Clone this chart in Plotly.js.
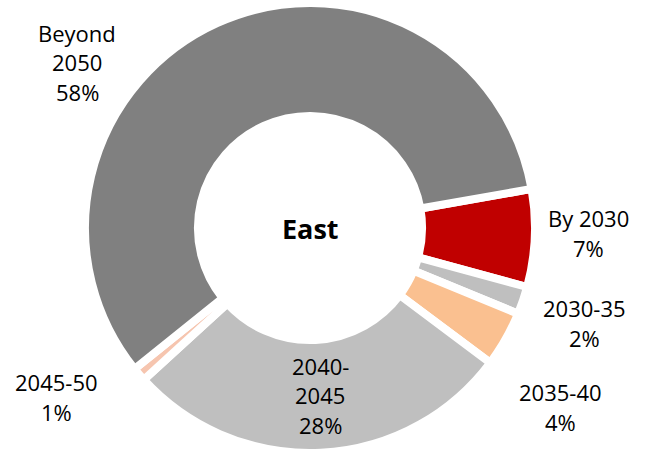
<!DOCTYPE html>
<html>
<head>
<meta charset="utf-8">
<script src="https://cdn.plot.ly/plotly-3.0.1.min.js"></script>
<style>html,body{margin:0;padding:0;background:#fff;overflow:hidden;}</style>
</head>
<body>
<div id="chart" style="width:645px;height:456px;"></div>
<script>
// ---- data ----
const categories = ['By 2030', '2030-35', '2035-40', '2040-2045', '2045-50', 'Beyond 2050'];
const values = [7, 2, 4, 28, 1, 58];
const labelLines = [['By 2030'], ['2030-35'], ['2035-40'], ['2040-', '2045'], ['2045-50'], ['Beyond', '2050']];
const centerTitle = 'East';

// ---- styles / layout ----
const colors = ['#C00000', '#BFBFBF', '#FAC090', '#BFBFBF', '#F6C5AF', '#808080'];
const labelPos = [[588, 233], [584, 323], [560, 407], [320, 395], [56, 397], [77, 62]]; // px centers
const W = 645, H = 456, LINE = 29.5;
const CX = 310, CY = 228, R = 225;
const FONT = '"Open Sans", Lato, sans-serif';

const annotations = [];
categories.forEach((c, i) => {
  const lines = labelLines[i].concat([values[i] + '%']);
  const n = lines.length;
  lines.forEach((t, k) => {
    const py = labelPos[i][1] + (k - (n - 1) / 2) * LINE;
    annotations.push({
      xref: 'paper', yref: 'paper',
      x: labelPos[i][0] / W, y: 1 - py / H,
      xanchor: 'center', yanchor: 'middle',
      text: t, showarrow: false,
      font: {family: FONT, size: 22, color: '#000'}
    });
  });
});
annotations.push({
  xref: 'paper', yref: 'paper', x: CX / W, y: 1 - 229 / H,
  xanchor: 'center', yanchor: 'middle', showarrow: false,
  text: '<b>' + centerTitle + '</b>',
  font: {family: FONT, size: 27, color: '#000'}
});

const trace = {
  type: 'pie',
  labels: categories,
  values: values,
  sort: false,
  direction: 'clockwise',
  rotation: 80,
  hole: 0.498,
  textinfo: 'none',
  hoverinfo: 'none',
  marker: {colors: colors, line: {color: '#ffffff', width: 8}},
  domain: {x: [(CX - R) / W, (CX + R) / W], y: [(H - CY - R) / H, (H - CY + R) / H]}
};

const layout = {
  width: W, height: H,
  margin: {l: 0, r: 0, t: 0, b: 0},
  paper_bgcolor: '#ffffff',
  showlegend: false,
  annotations: annotations
};

Plotly.newPlot('chart', [trace], layout, {displayModeBar: false, staticPlot: true});
</script>
</body>
</html>
